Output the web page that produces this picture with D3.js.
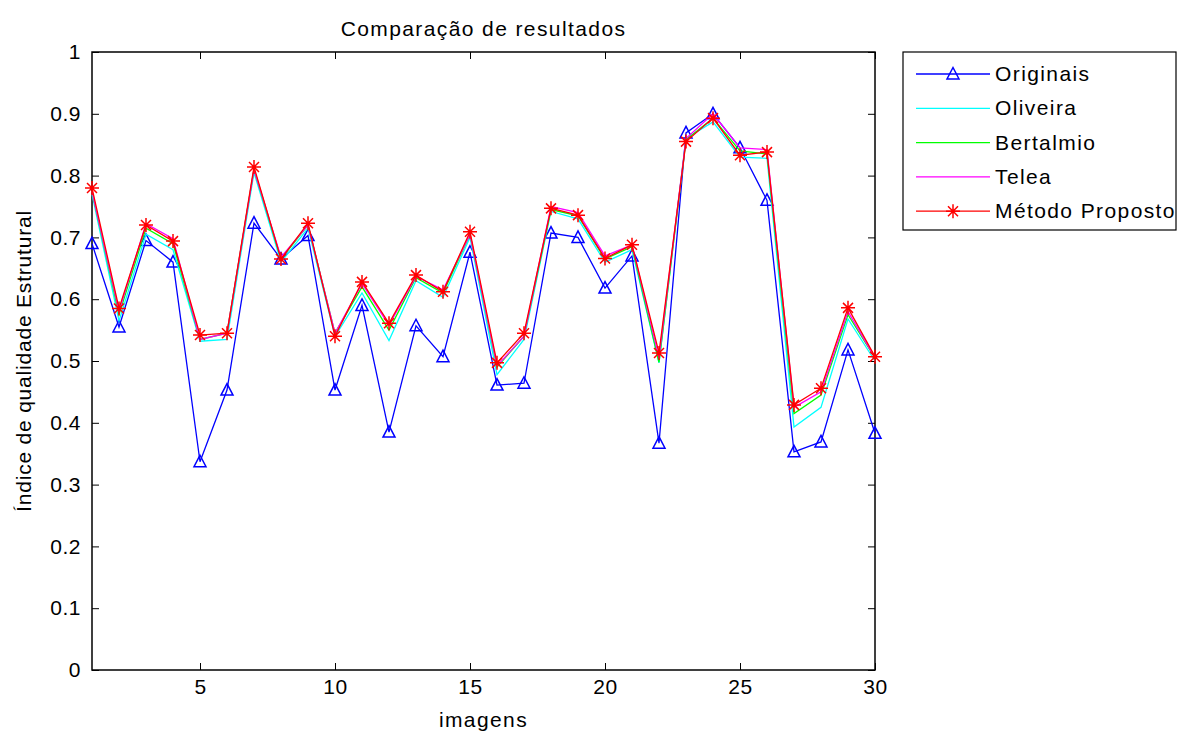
<!DOCTYPE html>
<html>
<head>
<meta charset="utf-8">
<script src="https://cdn.jsdelivr.net/npm/d3@7"></script>
<style>
  body { margin: 0; background: #fff; }
  svg { display: block; font-family: "Liberation Sans", Arial, sans-serif; }
  .axis text { font-size: 21px; fill: #000; letter-spacing: 0.5px; }
  .axis line { stroke: #000; }
  .lbl { letter-spacing: 1.4px; }
</style>
</head>
<body>
<script>
const w = 1178;
const h = 734;

// image index 1..30
const imagens = d3.range(1, 31);
const xTicks = [5, 10, 15, 20, 25, 30];
const yTicks = [0, 0.1, 0.2, 0.3, 0.4, 0.5, 0.6, 0.7, 0.8, 0.9, 1];

const originais = [0.69, 0.555, 0.695, 0.66, 0.337, 0.453, 0.723, 0.665, 0.703, 0.453,
  0.59, 0.385, 0.557, 0.507, 0.676, 0.461, 0.464, 0.707, 0.70, 0.618,
  0.67, 0.367, 0.869, 0.90, 0.845, 0.76, 0.353, 0.369, 0.518, 0.383];
const oliveira = [0.77, 0.565, 0.705, 0.68, 0.532, 0.535, 0.805, 0.66, 0.715, 0.54,
  0.61, 0.533, 0.63, 0.603, 0.70, 0.478, 0.535, 0.742, 0.73, 0.66,
  0.68, 0.497, 0.86, 0.887, 0.83, 0.828, 0.393, 0.425, 0.568, 0.50];
const bertalmio = [0.775, 0.575, 0.715, 0.69, 0.535, 0.545, 0.81, 0.665, 0.72, 0.545,
  0.62, 0.55, 0.635, 0.61, 0.705, 0.49, 0.54, 0.745, 0.735, 0.665,
  0.685, 0.498, 0.858, 0.893, 0.84, 0.835, 0.415, 0.445, 0.575, 0.505];
const telea = [0.775, 0.58, 0.722, 0.698, 0.535, 0.545, 0.81, 0.668, 0.72, 0.545,
  0.625, 0.558, 0.637, 0.615, 0.705, 0.492, 0.54, 0.75, 0.74, 0.67,
  0.688, 0.505, 0.86, 0.90, 0.845, 0.842, 0.425, 0.45, 0.58, 0.505];
const proposto = [0.78, 0.585, 0.72, 0.694, 0.542, 0.545, 0.814, 0.665, 0.723, 0.54,
  0.628, 0.561, 0.639, 0.612, 0.709, 0.497, 0.545, 0.747, 0.736, 0.666,
  0.688, 0.513, 0.855, 0.893, 0.833, 0.838, 0.429, 0.456, 0.586, 0.507];

const seriesNames = ["Originais", "Oliveira", "Bertalmio", "Telea", "Método Proposto"];
const seriesColors = ["#0000ff", "#00ffff", "#00ff00", "#ff00ff", "#ff0000"];
const seriesMarkers = ["triangle", null, null, null, "star"];
const seriesValues = [originais, oliveira, bertalmio, telea, proposto];

const svg = d3.select("body").append("svg").attr("width", w).attr("height", h);

const x = d3.scaleLinear().domain([1, 30]).range([92, 875]);
const y = d3.scaleLinear().domain([0, 1]).range([670, 52]);

const fmt = (d) => String(+d.toFixed(1));

// axes with inward ticks (matlab style)
svg.append("g").attr("class", "axis")
  .attr("transform", `translate(0,${y(0)})`)
  .call(d3.axisBottom(x).tickValues(xTicks).tickSizeInner(-7).tickSizeOuter(0).tickPadding(9))
  .call((g) => g.select(".domain").remove());
svg.append("g").attr("class", "axis")
  .attr("transform", `translate(0,${y(1)})`)
  .call(d3.axisTop(x).tickValues(xTicks).tickSizeInner(-7).tickSizeOuter(0).tickFormat(""))
  .call((g) => g.select(".domain").remove());
svg.append("g").attr("class", "axis")
  .attr("transform", `translate(${x(1)},0)`)
  .call(d3.axisLeft(y).tickValues(yTicks).tickFormat(fmt).tickSizeInner(-7).tickSizeOuter(0).tickPadding(11))
  .call((g) => g.select(".domain").remove());
svg.append("g").attr("class", "axis")
  .attr("transform", `translate(${x(30)},0)`)
  .call(d3.axisRight(y).tickValues(yTicks).tickSizeInner(-7).tickSizeOuter(0).tickFormat(""))
  .call((g) => g.select(".domain").remove());

svg.append("rect")
  .attr("x", x(1)).attr("y", y(1))
  .attr("width", x(30) - x(1)).attr("height", y(0) - y(1))
  .attr("fill", "none").attr("stroke", "#000").attr("stroke-width", 1.5);

// titles
svg.append("text").attr("class", "lbl").attr("x", (x(1) + x(30)) / 2).attr("y", 36)
  .attr("text-anchor", "middle").attr("font-size", 21).text("Comparação de resultados");
svg.append("text").attr("class", "lbl").attr("x", (x(1) + x(30)) / 2).attr("y", 727)
  .attr("text-anchor", "middle").attr("font-size", 21).text("imagens");
svg.append("text")
  .attr("transform", `translate(31,${(y(0) + y(1)) / 2}) rotate(-90)`)
  .attr("text-anchor", "middle").attr("font-size", 21).attr("letter-spacing", "0.8px")
  .text("Índice de qualidade Estrutural");

const triPath = "M0,-6.5L6,5L-6,5Z";
const starPath = "M-7,0H7M0,-7V7M-5,-5L5,5M-5,5L5,-5";

function drawMarker(sel, kind, color) {
  if (kind === "triangle") {
    sel.append("path").attr("d", triPath).attr("fill", "none")
      .attr("stroke", color).attr("stroke-width", 1.5);
  } else if (kind === "star") {
    sel.append("path").attr("d", starPath).attr("fill", "none")
      .attr("stroke", color).attr("stroke-width", 1.5);
  }
}

const line = d3.line().x((d, i) => x(imagens[i])).y((d) => y(d));

seriesValues.forEach((vals, s) => {
  const g = svg.append("g");
  g.append("path").attr("d", line(vals)).attr("fill", "none")
    .attr("stroke", seriesColors[s]).attr("stroke-width", 1.3);
  if (seriesMarkers[s]) {
    g.selectAll("g.mk").data(vals).enter().append("g")
      .attr("transform", (d, i) => `translate(${x(imagens[i])},${y(d)})`)
      .each(function () { drawMarker(d3.select(this), seriesMarkers[s], seriesColors[s]); });
  }
});

// legend
const legend = svg.append("g");
legend.append("rect").attr("x", 903).attr("y", 52).attr("width", 273).attr("height", 178)
  .attr("fill", "#fff").attr("stroke", "#000").attr("stroke-width", 1.2);
seriesNames.forEach((name, i) => {
  const ly = 74 + i * 34.3;
  legend.append("line").attr("x1", 916).attr("x2", 990).attr("y1", ly).attr("y2", ly)
    .attr("stroke", seriesColors[i]).attr("stroke-width", 1.3);
  const m = legend.append("g").attr("transform", `translate(953,${ly})`);
  drawMarker(m, seriesMarkers[i], seriesColors[i]);
  legend.append("text").attr("class", "lbl").attr("x", 995).attr("y", ly + 7)
    .attr("font-size", 21).text(name);
});
</script>
</body>
</html>
